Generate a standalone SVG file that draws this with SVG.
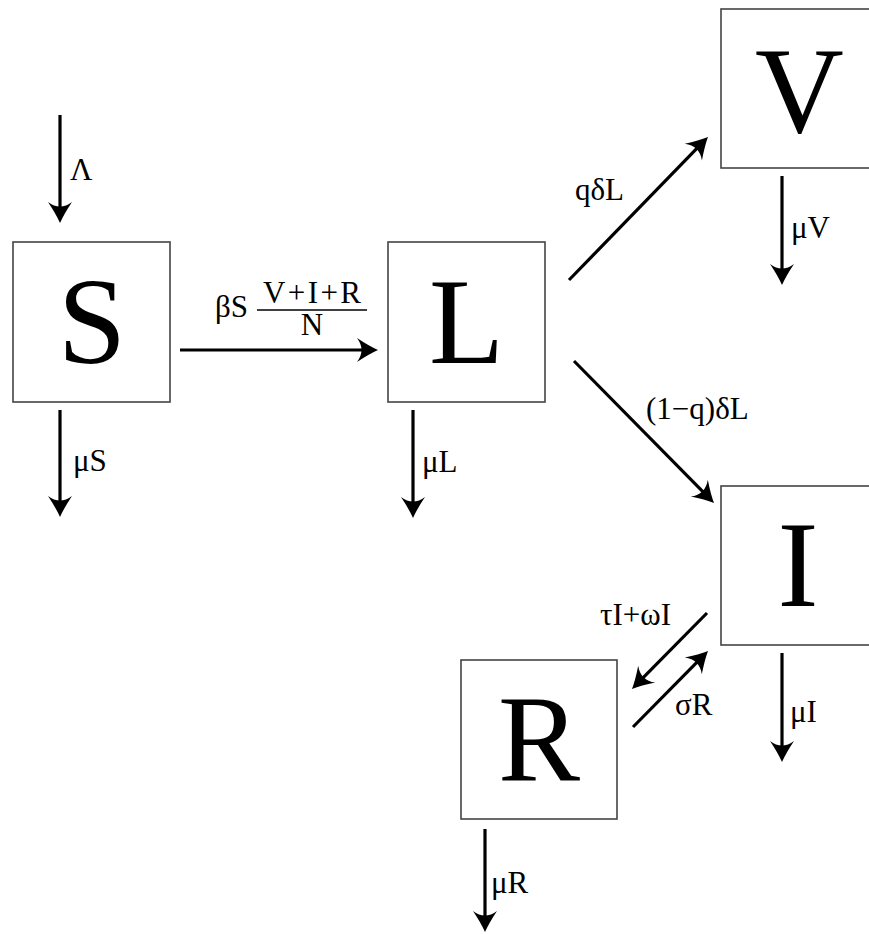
<svg xmlns="http://www.w3.org/2000/svg" width="869" height="934" viewBox="0 0 869 934">
<style>
.box{fill:#fff;stroke:#444;stroke-width:1.6}
.big{font-family:"Liberation Serif",serif;font-size:123px;fill:#000;text-anchor:middle}
.lbl{font-family:"Liberation Serif",serif;font-size:31px;fill:#000}
.arr{stroke:#000;stroke-width:3.2;fill:none;marker-end:url(#ah)}
</style>
<defs>
<marker id="ah" markerUnits="userSpaceOnUse" viewBox="-23 -13 25 26" markerWidth="25" markerHeight="26" refX="-10" refY="0" orient="auto">
<path d="M0,0 Q-9,-4 -21,-12 Q-12,0 -21,12 Q-9,4 0,0 Z" fill="#000"/>
</marker>
</defs>
<rect width="869" height="934" fill="#fff"/>
<g id="node-S"><rect class="box" x="13" y="242" width="157" height="160"/><text class="big" x="92" y="363">S</text></g>
<g id="node-L"><rect class="box" x="388" y="242" width="157" height="160"/><text class="big" x="466.5" y="363">L</text></g>
<g id="node-V"><rect class="box" x="721" y="9" width="157" height="159"/><text class="big" x="799.5" y="132">V</text></g>
<g id="node-I"><rect class="box" x="721" y="486" width="157" height="159"/><text class="big" x="798" y="606">I</text></g>
<g id="node-R"><rect class="box" x="461" y="660" width="156" height="159"/><text class="big" x="539" y="780">R</text></g>
<g id="connectors">
<line class="arr" x1="60" y1="115" x2="60" y2="213"/>
<line class="arr" x1="60" y1="410" x2="60" y2="507"/>
<line class="arr" x1="180" y1="350" x2="368" y2="350"/>
<line class="arr" x1="413" y1="410" x2="413" y2="508"/>
<line class="arr" x1="569" y1="280" x2="701" y2="144.2"/>
<line class="arr" x1="782" y1="176" x2="782" y2="275"/>
<line class="arr" x1="574" y1="361" x2="707" y2="495.9"/>
<line class="arr" x1="782" y1="653" x2="782" y2="752"/>
<line class="arr" x1="707" y1="613" x2="639" y2="681.9"/>
<line class="arr" x1="633" y1="727" x2="701" y2="658.1"/>
<line class="arr" x1="485" y1="829" x2="485" y2="922"/>
</g>
<g id="labels">
<text class="lbl" x="70" y="180">Λ</text>
<text class="lbl" x="73" y="471">μS</text>
<text class="lbl" x="215" y="317">βS</text>
<text class="lbl" x="312" y="303" text-anchor="middle" textLength="98" lengthAdjust="spacing">V+I+R</text>
<line x1="257" y1="310" x2="367" y2="310" stroke="#000" stroke-width="1.6"/>
<text class="lbl" x="312" y="335" text-anchor="middle">N</text>
<text class="lbl" x="422" y="472">μL</text>
<text class="lbl" x="575" y="200">qδL</text>
<text class="lbl" x="791" y="238">μV</text>
<text class="lbl" x="646" y="419">(1−q)δL</text>
<text class="lbl" x="790" y="722">μI</text>
<text class="lbl" x="600" y="625">τI+ωI</text>
<text class="lbl" x="675" y="715">σR</text>
<text class="lbl" x="491" y="893">μR</text>
</g>
</svg>
